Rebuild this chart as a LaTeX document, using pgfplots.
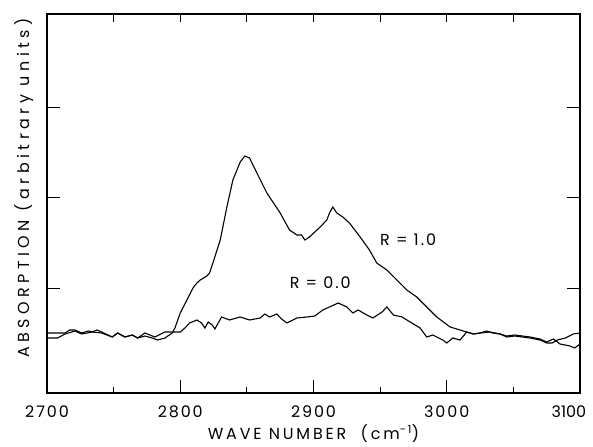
\documentclass[border=0pt]{standalone}
\usepackage{pgfplots}
\pgfplotsset{compat=1.18}
\usepackage{fontspec}
\setmainfont{Poppins}[LetterSpace=12]
\usetikzlibrary{calc}
\begin{document}
\begin{tikzpicture}
\begin{axis}[
  name=a,
  scale only axis,
  width=533bp, height=379bp,
  xmin=2700, xmax=3100, ymin=0, ymax=379,
  xtick={2700,2800,2900,3000,3100},
  xticklabels={2700,2800,2900,3000,{\hspace*{-22bp}\addfontfeature{LetterSpace=0}3100}},
  minor x tick num=1,
  xtick pos=bottom,
  ytick={104,195,285}, yticklabels={},
  ytick pos=both,
  tick align=inside,
  major tick length=13bp, minor tick length=6bp,
  every tick/.style={black, line width=1bp},
  axis line style={line width=1.1bp},
  /pgf/number format/assume math mode=true,
  /pgf/number format/set thousands separator={},
  xticklabel style={font=\fontsize{16}{18}\selectfont, anchor=base, yshift=-24bp},
  xlabel={\addfontfeature{LetterSpace=18}WAVE NUMBER \ (cm\textsuperscript{-1})},
  ylabel={\addfontfeature{LetterSpace=28}ABSORPTION (arbitrary units)},
  xlabel style={font=\fontsize{16}{18}\selectfont, at={(axis description cs:0.50,-0.124)}, anchor=base},
  ylabel style={font=\fontsize{16}{18}\selectfont, at={(axis description cs:-0.032,0.541)}, anchor=base},
  clip=false,
]
\addplot[black, line width=1.1bp] coordinates {
(2700,55) (2708,55) (2713.5,59) (2721,62) (2726,59) (2734,61) (2741,60) (2749,56) (2753,60) (2758.5,56)
(2764,58) (2768,55) (2773.5,57) (2779,55) (2783,53) (2788.5,55) (2794,60) (2796,65) (2800,80) (2805,93)
(2809.5,105) (2812.5,110) (2815,113) (2820,117) (2822,120) (2824.5,130) (2830,153) (2835,186) (2839.5,213) (2845,231)
(2848.5,237) (2852,235) (2857.5,220) (2865,200) (2875,180) (2882,163) (2887.5,158) (2891,158) (2893.5,153) (2897,156)
(2905,166) (2910,173) (2912,180) (2914.5,186) (2917.5,180) (2922,176) (2927,170) (2935,156) (2942,143) (2947.5,130)
(2955,123) (2962.5,113) (2970,103) (2977.5,96) (2985,86) (2992.5,76) (3002.5,66) (3010,63) (3015,61) (3020,59)
(3025,60) (3032.5,61) (3040,59) (3045,56) (3051,57) (3062.5,55) (3070,53) (3075,50) (3079,50) (3083,53)
(3089,55) (3095,59) (3100,60)
};
\addplot[black, line width=1.1bp] coordinates {
(2700,60) (2706,60) (2713.5,60) (2717,63) (2721,63) (2726,60) (2731,62) (2734,61) (2737.5,63) (2741,61)
(2749,56) (2753,60) (2758.5,56) (2764,58) (2768,55) (2773.5,60) (2781,56) (2788.5,61) (2796,61) (2800,61)
(2803.5,65) (2807,70) (2812.5,73) (2816,70) (2818.5,65) (2821,71) (2824,68) (2826,64) (2831,76) (2837,73)
(2845,76) (2852,73) (2860,75) (2863.5,79) (2867,76) (2872.5,79) (2876,74) (2880,70) (2887.5,75) (2895,76)
(2901,77) (2907,83) (2912,86) (2918.5,90) (2925,86) (2929.5,80) (2933.5,83) (2940,78) (2944.5,75) (2951.5,81)
(2955,86) (2960,78) (2966.5,76) (2972.5,71) (2980,65) (2985,56) (2989.5,58) (2997,53) (3000,50) (3004.5,55)
(3010,53) (3015,61) (3020,59) (3025,60) (3030,62) (3034.5,60) (3040,59) (3045,57) (3051,58) (3062.5,56)
(3070,54) (3075,51) (3080,54) (3085,49) (3092.5,47) (3096,45) (3100,49)
};
\node[font=\fontsize{16}{18}\selectfont] at (axis cs:2971,153) {R = 1.0};
\node[font=\fontsize{16}{18}\selectfont] at (axis cs:2905,110) {R = 0.0};
\end{axis}
\begin{axis}[
  scale only axis,
  width=533bp, height=379bp,
  xmin=2700, xmax=3100, ymin=0, ymax=379,
  axis x line*=top, hide y axis,
  xtick={2750,2800,...,3050}, xticklabels={},
  tick align=inside,
  major tick length=8bp,
  every tick/.style={black, line width=1bp},
  axis line style={line width=1.1bp},
]
\end{axis}
\pgfresetboundingbox
\path ($(a.south west)+(-47bp,-54bp)$) rectangle ($(a.north east)+(13bp,14bp)$);
\end{tikzpicture}
\end{document}
